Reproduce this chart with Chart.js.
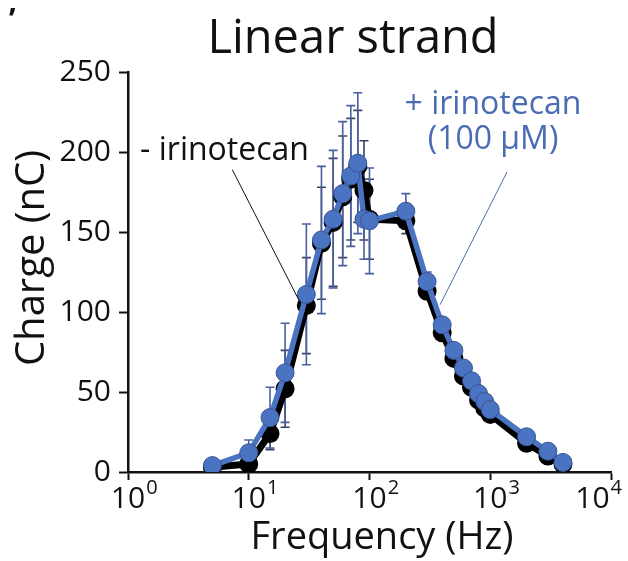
<!DOCTYPE html>
<html>
<head>
<meta charset="utf-8">
<script src="https://cdn.jsdelivr.net/npm/chart.js@4.4.1/dist/chart.umd.min.js"></script>
<style>
  html, body { margin: 0; padding: 0; background: #fff; }
  #chart { display: block; }
</style>
</head>
<body>
<canvas id="chart" width="628" height="561"></canvas>
<script>
// values
const frequencies = [5, 10, 15, 20, 30, 40, 50, 60, 70, 80, 90, 100, 200, 300, 400, 500, 600, 700, 800, 900, 1000, 2000, 3000, 4000];
const chargeControl = [3, 5, 24, 52, 104, 143, 156, 172, 183, 191, 176, 158, 157, 113, 87, 71, 60, 53, 45, 40, 36, 18, 10, 5];
const errorControl = [1, 3, 10, 24, 30, 35, 40, 38, 38, 35, 31, 25, 8, 5, 2, 2, 2, 2, 2, 2, 2, 2, 2, 2];
const chargeDrug = [4, 12, 34, 62, 111, 145, 158, 174, 185, 193, 158, 157, 163, 119, 92, 76, 65, 57, 49, 44, 39, 22, 13, 6];
const errorDrug = [2, 8, 19, 31, 44, 46, 43, 45, 44, 44, 25, 33, 11, 6, 3, 2, 2, 2, 2, 2, 2, 2, 2, 2];
const decadeTicks = [1, 10, 100, 1000, 10000];

const FONT = '"Open Sans", "DejaVu Sans", sans-serif';
const INK = "#111111";
const BLUE = "#4a73c2";
const BLUE_TEXT = "#4a6cb3";
const BAR_COLOR = "#4a5f9e";

function toPoints(values) {
  return frequencies.map((f, i) => ({ x: f, y: values[i] }));
}

const errorBars = {
  id: "errorBars",
  beforeDatasetsDraw(chart) {
    const ctx = chart.ctx;
    const xs = chart.scales.x;
    const ys = chart.scales.y;
    // draw the control bars first, the drug bars over them
    chart.data.datasets.slice().reverse().forEach((ds) => {
      ctx.save();
      ctx.strokeStyle = ds.errorColor;
      ctx.lineWidth = 1.6;
      ds.data.forEach((pt, i) => {
        const e = ds.errors[i];
        if (!e) return;
        const px = xs.getPixelForValue(pt.x);
        const top = ys.getPixelForValue(pt.y + e);
        const bot = ys.getPixelForValue(pt.y - e);
        ctx.beginPath();
        ctx.moveTo(px, top);
        ctx.lineTo(px, bot);
        ctx.moveTo(px - 4.5, top);
        ctx.lineTo(px + 4.5, top);
        ctx.moveTo(px - 4.5, bot);
        ctx.lineTo(px + 4.5, bot);
        ctx.stroke();
      });
      ctx.restore();
    });
  },
};

// annotation anchors in data units (Hz, nC)
const minusLabel = { text: "- irinotecan", x: 1.26, y: 195 };
const minusLeader = [{ x: 7.3, y: 189 }, { x: 26.6, y: 106 }];
const plusLabel = [
  { text: "+ irinotecan", x: 1054, y: 224 },
  { text: "(100 \u03bcM)", x: 1054, y: 202 },
];
const plusLeader = [{ x: 1376, y: 187.5 }, { x: 384, y: 104.5 }];

const textLayer = {
  id: "textLayer",
  afterDraw(chart) {
    const ctx = chart.ctx;
    const xs = chart.scales.x;
    const ys = chart.scales.y;
    const area = chart.chartArea;
    ctx.save();

    // title
    ctx.fillStyle = INK;
    ctx.font = "47px " + FONT;
    ctx.textAlign = "center";
    ctx.textBaseline = "alphabetic";
    ctx.fillText("Linear strand", 353, 53);

    // panel mark cut off at the corner
    ctx.font = "bold 30px " + FONT;
    ctx.textAlign = "left";
    ctx.fillText("\u2019", 9, 30);

    // x tick labels as 10 with superscript exponent
    decadeTicks.forEach((v) => {
      const px = xs.getPixelForValue(v);
      const exp = String(Math.round(Math.log10(v)));
      ctx.font = "30px " + FONT;
      const base = ctx.measureText("10").width;
      ctx.font = "20px " + FONT;
      const sup = ctx.measureText(exp).width;
      // keep the last label inside the canvas
      let left = px - base / 2;
      left = Math.min(left, chart.width - 6 - base - sup - 1);
      ctx.textAlign = "left";
      ctx.font = "30px " + FONT;
      ctx.fillText("10", left, area.bottom + 36);
      ctx.font = "20px " + FONT;
      ctx.fillText(exp, left + base + 1, area.bottom + 22);
    });

    // axis titles
    ctx.font = "38px " + FONT;
    ctx.textAlign = "center";
    ctx.fillText("Frequency (Hz)", 382, 549);
    ctx.save();
    ctx.font = "40px " + FONT;
    ctx.translate(44, 258);
    ctx.rotate(-Math.PI / 2);
    ctx.fillText("Charge (nC)", 0, 0);
    ctx.restore();

    // annotations
    ctx.font = "32px " + FONT;
    ctx.textAlign = "left";
    ctx.fillText(minusLabel.text, xs.getPixelForValue(minusLabel.x), ys.getPixelForValue(minusLabel.y));
    ctx.strokeStyle = INK;
    ctx.lineWidth = 1;
    ctx.beginPath();
    ctx.moveTo(xs.getPixelForValue(minusLeader[0].x), ys.getPixelForValue(minusLeader[0].y));
    ctx.lineTo(xs.getPixelForValue(minusLeader[1].x), ys.getPixelForValue(minusLeader[1].y));
    ctx.stroke();

    ctx.fillStyle = BLUE_TEXT;
    ctx.textAlign = "center";
    plusLabel.forEach((l) => {
      ctx.fillText(l.text, xs.getPixelForValue(l.x), ys.getPixelForValue(l.y));
    });
    ctx.strokeStyle = BLUE_TEXT;
    ctx.beginPath();
    ctx.moveTo(xs.getPixelForValue(plusLeader[0].x), ys.getPixelForValue(plusLeader[0].y));
    ctx.lineTo(xs.getPixelForValue(plusLeader[1].x), ys.getPixelForValue(plusLeader[1].y));
    ctx.stroke();

    ctx.restore();
  },
};

new Chart(document.getElementById("chart"), {
  type: "line",
  data: {
    datasets: [
      {
        label: "+ irinotecan (100 \u03bcM)",
        data: toPoints(chargeDrug),
        errors: errorDrug,
        errorColor: BAR_COLOR,
        borderColor: BLUE,
        backgroundColor: BLUE,
        borderWidth: 5.5,
        pointRadius: 9,
        pointBackgroundColor: BLUE,
        pointBorderColor: "#3a5596",
        pointBorderWidth: 1,
        tension: 0,
      },
      {
        label: "- irinotecan",
        data: toPoints(chargeControl),
        errors: errorControl,
        errorColor: "#3b4266",
        borderColor: "#000",
        backgroundColor: "#000",
        borderWidth: 7,
        pointRadius: 9.5,
        pointBackgroundColor: "#000",
        pointBorderColor: "#000",
        pointBorderWidth: 0,
        tension: 0,
      },
    ],
  },
  options: {
    responsive: false,
    animation: false,
    layout: { padding: { top: 72, right: 17, bottom: 0, left: 0 } },
    plugins: {
      legend: { display: false },
      tooltip: { enabled: false },
    },
    scales: {
      x: {
        type: "logarithmic",
        min: 1,
        max: 10000,
        afterBuildTicks: (scale) => {
          scale.ticks = decadeTicks.map((v) => ({ value: v }));
        },
        ticks: { display: false },
        grid: { drawOnChartArea: false, tickLength: 8, tickWidth: 2, tickColor: INK },
        border: { color: INK, width: 2.5 },
        afterFit: (scale) => {
          scale.height = 89;
          scale.paddingLeft = 0;
          scale.paddingRight = 0;
        },
      },
      y: {
        min: 0,
        max: 250,
        ticks: { stepSize: 50, color: INK, padding: 8, font: { family: FONT, size: 30 } },
        grid: { drawOnChartArea: false, tickLength: 9, tickWidth: 2, tickColor: INK },
        border: { color: INK, width: 2.5 },
        afterFit: (scale) => {
          scale.width = 128;
          scale.paddingTop = 0;
          scale.paddingBottom = 0;
        },
      },
    },
  },
  plugins: [errorBars, textLayer],
});
</script>
</body>
</html>
